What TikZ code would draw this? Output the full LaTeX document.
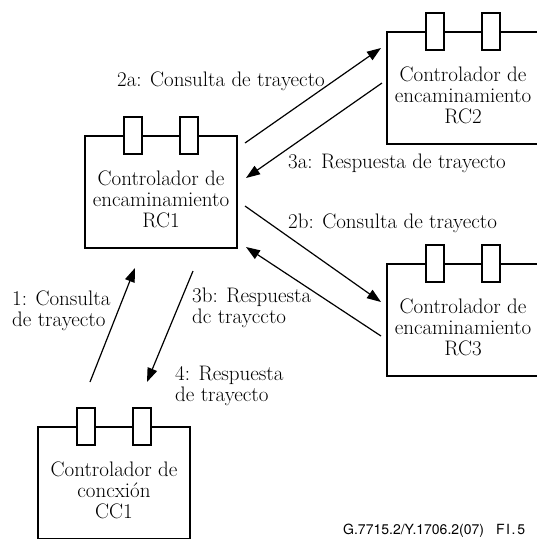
\documentclass[tikz,border=0pt]{standalone}
\usepackage{fontspec}
\newfontfamily\refface{TeX Gyre Heros}
\usetikzlibrary{arrows.meta}
\begin{document}
\begin{tikzpicture}[x=1pt,y=1pt,
  ctrlbox/.style={draw, line width=2pt, minimum width=152pt, minimum height=112pt, inner sep=0pt},
  tabbox/.style={draw, fill=white, line width=2pt, minimum width=18pt, minimum height=37pt, inner sep=0pt},
  ctrlname/.style={font=\rmfamily\fontsize{21}{21}\selectfont, align=center, inner sep=0pt, anchor=north},
  msg/.style={font=\rmfamily\fontsize{21}{21}\selectfont, align=left, inner sep=0pt},
  flow/.style={line width=1.2pt, -{Triangle[length=14pt,width=10pt]}}]
\useasboundingbox (0,0) rectangle (537,-539);
\clip (0,0) rectangle (537,-539);

% controllers: box, two connector tabs on the top edge, name
\node[ctrlbox] (rc1) at (161,-192) {};
\node[tabbox] at ([xshift=-28pt]rc1.north) {};
\node[tabbox] at ([xshift=28pt]rc1.north) {};
\node[ctrlname] (rc1t) at ([yshift=-35.5pt]rc1.north) {Controlador de\\encaminamiento\\RC1};

\node[ctrlbox] (rc2) at (463,-88) {};
\node[tabbox] at ([xshift=-28pt]rc2.north) {};
\node[tabbox] at ([xshift=28pt]rc2.north) {};
\node[ctrlname] (rc2t) at ([yshift=-35.5pt]rc2.north) {Controlador de\\encaminamiento\\RC2};

\node[ctrlbox] (rc3) at (463,-320) {};
\node[tabbox] at ([xshift=-28pt]rc3.north) {};
\node[tabbox] at ([xshift=28pt]rc3.north) {};
\node[ctrlname] (rc3t) at ([yshift=-35.5pt]rc3.north) {Controlador de\\encaminamiento\\RC3};

\node[ctrlbox] (cc1) at (114,-483) {};
\node[tabbox] at ([xshift=-28pt]cc1.north) {};
\node[tabbox] at ([xshift=28pt]cc1.north) {};
\node[ctrlname] (cc1t) at ([yshift=-35.5pt]cc1.north) {Controlador de\\concxión\\CC1};

% messages between controllers
\draw[flow] ([shift={(7,49)}]rc1.east) -- ([shift={(-5,40)}]rc2.west);
\draw[flow] ([shift={(-4,5)}]rc2.west) -- ([shift={(8,14)}]rc1.east);
\draw[flow] ([shift={(7,-14)}]rc1.east) -- ([shift={(-5,18)}]rc3.west);
\draw[flow] ([shift={(-5,-16)}]rc3.west) -- ([shift={(8,-55)}]rc1.east);
\draw[flow] ([shift={(-24,44)}]cc1.north) -- ([shift={(-26,-19)}]rc1.south);
\draw[flow] ([shift={(32,-22)}]rc1.south) -- ([shift={(33,44)}]cc1.north);

% message labels
\node[msg, anchor=base west] (m2a) at (117,-86) {2a: Consulta de trayecto};
\node[msg, anchor=base west] (m3a) at (288,-168) {3a: Respuesta de trayecto};
\node[msg, anchor=base west] (m2b) at (288,-228) {2b: Consulta de trayecto};
\node[msg, anchor=north west] (m1) at (12,-290.5) {1: Consulta\\de trayecto};
\node[msg, anchor=north west] (m3b) at (192,-287.5) {3b: Respuesta\\dc trayccto};
\node[msg, anchor=north west] (m4) at (175,-365.5) {4: Respuesta\\de trayecto};

% figure reference, running off the right edge
\node[font=\refface\fontsize{14}{14}\selectfont, anchor=base west, inner sep=0pt] (ref) at (343,-534) {G.7715.2/Y.1706.2(07)\hspace{12pt}F\hspace{1.5pt}I\hspace{1.5pt}.\hspace{2pt}5};
\end{tikzpicture}
\end{document}
